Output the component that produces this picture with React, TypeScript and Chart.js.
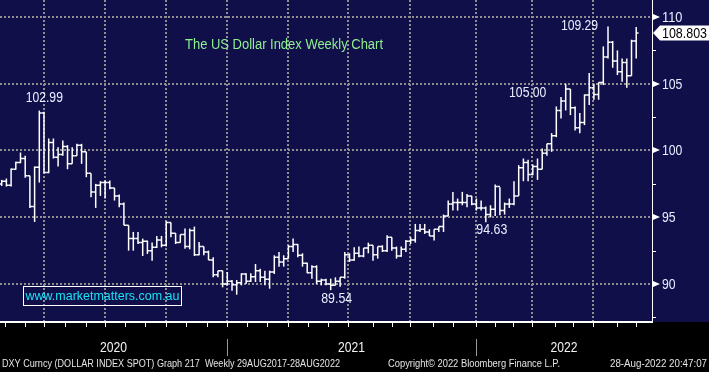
import React, { useEffect, useRef } from 'react';
import { Chart, registerables } from 'chart.js';
Chart.register(...registerables);

// Weekly OHLC of DXY, one bar per week starting late Jan 2020 (index 0) to 26 Aug 2022 (index 135)
const OPEN = [
  97.5, 97.7, 97.4, 98.6, 99.1, 99.4, 98.1, 95.8, 98.75, 102.8,
  98.35, 100.6, 99.5, 99.7, 100.3, 99.0, 99.6, 100.4, 99.9, 98.3,
  96.9, 97.4, 97.6, 97.6, 97.2, 96.6, 96.0, 94.4, 93.4, 93.4,
  93.1, 93.2, 92.5, 92.75, 93.3, 92.9, 94.6, 93.8, 93.1, 93.7,
  92.8, 94.0, 92.2, 92.8, 92.4, 91.8, 90.7, 91.0, 90.0, 90.2,
  89.95, 90.1, 90.75, 90.2, 90.55, 91.0, 90.5, 90.35, 90.9, 92.0,
  91.65, 91.9, 92.8, 92.95, 92.15, 91.55, 90.85, 91.3, 90.2, 90.3,
  90.0, 89.9, 90.2, 90.5, 92.2, 91.8, 92.3, 92.1, 92.7, 92.9,
  92.2, 92.8, 92.5, 93.5, 92.7, 92.1, 92.6, 93.2, 93.3, 94.0,
  94.1, 93.9, 93.6, 94.1, 94.3, 95.1, 96.0, 96.1, 96.1, 96.1,
  96.6, 96.0, 95.7, 95.7, 95.2, 95.6, 97.3, 95.5, 96.0, 96.0,
  96.6, 98.7, 99.1, 98.2, 98.8, 98.6, 99.8, 100.5, 101.1, 103.0,
  103.7, 104.6, 103.2, 101.7, 102.1, 104.15, 104.7, 104.2, 105.1, 107.0,
  108.1, 106.7, 105.9, 106.6, 105.6, 108.2
];
const HIGH = [
  97.8, 97.9, 98.65, 99.15, 99.85, 99.6, 98.1, 98.8, 102.99, 102.9,
  100.9, 100.9, 100.25, 100.75, 100.4, 100.25, 100.5, 100.5, 99.9, 98.3,
  97.5, 97.7, 97.75, 97.75, 97.2, 96.7, 96.1, 94.4, 93.9, 93.9,
  93.4, 93.25, 93.1, 93.6, 93.6, 94.7, 94.6, 93.8, 93.7, 94.15,
  94.15, 94.3, 93.15, 92.8, 92.5, 92.0, 91.0, 91.0, 90.9, 90.3,
  90.3, 90.8, 90.8, 90.8, 91.5, 91.15, 91.0, 91.0, 92.15, 92.4,
  92.15, 92.9, 93.4, 93.0, 92.3, 91.6, 91.4, 91.4, 90.4, 90.4,
  90.4, 90.5, 90.5, 92.4, 92.3, 92.75, 92.8, 92.7, 93.1, 92.9,
  92.8, 92.9, 93.65, 93.5, 92.8, 92.8, 93.3, 93.5, 94.5, 94.5,
  94.5, 94.1, 94.1, 94.3, 95.2, 96.25, 96.9, 96.4, 96.9, 96.75,
  96.6, 96.4, 96.25, 95.8, 95.9, 97.45, 97.25, 96.1, 96.4, 97.7,
  98.9, 99.4, 99.3, 98.95, 99.4, 100.15, 100.5, 101.3, 103.3, 104.0,
  105.0, 104.6, 103.3, 102.8, 104.2, 105.8, 105.0, 105.1, 107.8, 109.29,
  108.2, 107.5, 106.9, 106.9, 108.3, 109.25
];
const LOW = [
  97.35, 97.3, 97.3, 98.55, 99.05, 97.95, 95.7, 94.65, 97.6, 98.3,
  98.3, 99.4, 98.8, 99.6, 98.6, 99.0, 99.6, 99.0, 98.0, 96.5,
  95.7, 96.6, 96.4, 97.1, 96.25, 95.75, 94.4, 92.5, 92.5, 93.0,
  92.1, 92.25, 91.75, 92.7, 92.75, 92.8, 93.5, 93.0, 93.1, 92.65,
  92.6, 92.1, 92.15, 92.15, 91.8, 90.5, 90.5, 89.75, 89.9, 89.5,
  89.2, 89.9, 90.0, 90.15, 90.15, 90.15, 89.9, 89.65, 90.75, 91.3,
  91.3, 91.9, 92.4, 92.0, 91.3, 90.8, 90.4, 90.0, 89.9, 89.9,
  89.54, 89.9, 89.8, 90.4, 91.65, 91.75, 92.0, 92.0, 92.3, 91.75,
  91.9, 92.4, 92.4, 92.5, 91.9, 92.05, 92.4, 93.0, 93.1, 93.9,
  93.75, 93.6, 93.25, 93.9, 93.9, 95.1, 95.5, 95.5, 95.9, 95.75,
  95.9, 95.5, 95.5, 94.63, 95.0, 95.1, 95.15, 95.2, 95.7, 95.9,
  96.6, 97.7, 97.7, 98.15, 97.8, 98.6, 99.6, 99.9, 101.0, 102.4,
  103.0, 102.65, 101.5, 101.3, 101.9, 103.4, 103.8, 103.8, 104.9, 106.9,
  106.2, 105.65, 105.15, 104.7, 105.6, 106.9
];
const CLOSE = [
  97.7, 97.4, 98.6, 99.1, 99.4, 98.1, 95.8, 98.75, 102.8, 98.35,
  100.6, 99.5, 99.7, 100.3, 99.0, 99.6, 100.4, 99.9, 98.3, 96.9,
  97.4, 97.6, 97.6, 97.2, 96.6, 96.0, 94.4, 93.4, 93.4, 93.1,
  93.2, 92.5, 92.75, 93.3, 92.9, 94.6, 93.8, 93.1, 93.7, 92.8,
  94.0, 92.2, 92.8, 92.4, 91.8, 90.7, 91.0, 90.0, 90.2, 89.95,
  90.1, 90.75, 90.2, 90.55, 91.0, 90.5, 90.35, 90.9, 92.0, 91.65,
  91.9, 92.8, 92.95, 92.15, 91.55, 90.85, 91.3, 90.2, 90.3, 90.0,
  89.9, 90.2, 90.5, 92.2, 91.8, 92.3, 92.1, 92.7, 92.9, 92.2,
  92.8, 92.5, 93.5, 92.7, 92.1, 92.6, 93.2, 93.3, 94.0, 94.1,
  93.9, 93.6, 94.1, 94.3, 95.1, 96.0, 96.1, 96.1, 96.1, 96.6,
  96.0, 95.7, 95.7, 95.2, 95.6, 97.3, 95.5, 96.0, 96.0, 96.6,
  98.7, 99.1, 98.2, 98.8, 98.6, 99.8, 100.5, 101.1, 103.0, 103.7,
  104.6, 103.2, 101.7, 102.1, 104.15, 104.7, 104.2, 105.1, 107.0, 108.1,
  106.7, 105.9, 106.6, 105.6, 108.2, 108.803
];

// Axis definition
const Y_TICKS = [87.5, 90, 92.5, 95, 97.5, 100, 102.5, 105, 107.5, 110];
const Y_RANGE = [87.154, 111.273];
const X_RANGE = [-0.362, 138.36];
// Month tick positions (in week-index units) and their calendar month
const MONTH_TICKS = [
  0.7, 4.96, 9.0, 13.47, 17.94, 21.98, 26.23, 30.49, 34.96, 39.21, 43.68,
  47.94, 52.19, 56.45, 60.91, 65.17, 69.43, 73.68, 79.0, 83.04, 86.87, 91.77, 96.02,
  100.92, 104.96, 108.79, 112.83, 117.72, 121.55, 125.81, 130.91, 134.96
];
const MONTH_NUM = [
  2, 3, 4, 5, 6, 7, 8, 9, 10, 11, 12,
  1, 2, 3, 4, 5, 6, 7, 8, 9, 10, 11, 12,
  1, 2, 3, 4, 5, 6, 7, 8, 9
];
const YEAR_LABELS = ['2020', '2021', '2022'];

// Annotated extremes
const ANNOT_INDEX = [8, 70, 103, 120, 129];
const ANNOT_VALUE = [102.99, 89.54, 94.63, 105.0, 109.29];

const TITLE = 'The US Dollar Index Weekly Chart';
const WATERMARK = 'www.marketmatters.com.au';
const FOOTER_LEFT = 'DXY Curncy (DOLLAR INDEX SPOT) Graph 217  Weekly 29AUG2017-28AUG2022';
const FOOTER_MID = 'Copyright\u00a9 2022 Bloomberg Finance L.P.';
const FOOTER_RIGHT = '28-Aug-2022 20:47:07';

const NAVY = '#100f4a';
const FONT = '"Liberation Sans", Arial, sans-serif';
const ANNOT_OFFSETS = [[5, -12.6], [6, 9], [6, 8], [-38, 9], [-28.5, -0.4]];

const bbgPlugin = {
  id: 'bbgStyle',
  beforeDraw(chart: any) {
    const { ctx, width, height, chartArea } = chart;
    const xs = chart.scales.x;
    const ys = chart.scales.y;
    ctx.save();
    ctx.fillStyle = '#000000';
    ctx.fillRect(0, 0, width, height);
    ctx.fillStyle = NAVY;
    ctx.fillRect(0, 0, width, chartArea.bottom);
    // dotted grid
    ctx.strokeStyle = '#8e8e8e';
    ctx.lineWidth = 2;
    ctx.setLineDash([2, 2]);
    Y_TICKS.forEach((v) => {
      if (v % 5 !== 0) return;
      const py = Math.round(ys.getPixelForValue(v));
      ctx.beginPath();
      ctx.moveTo(chartArea.left, py);
      ctx.lineTo(chartArea.right, py);
      ctx.stroke();
    });
    MONTH_TICKS.forEach((t, k) => {
      if ((MONTH_NUM[k] - 1) % 3 !== 0) return;
      const px = Math.round(xs.getPixelForValue(t));
      ctx.beginPath();
      ctx.moveTo(px, chartArea.top);
      ctx.lineTo(px, chartArea.bottom);
      ctx.stroke();
    });
    ctx.restore();
  },
  afterDatasetsDraw(chart: any) {
    const { ctx, chartArea } = chart;
    const xs = chart.scales.x;
    const ys = chart.scales.y;
    const step = xs.getPixelForValue(1) - xs.getPixelForValue(0);
    const tl = step * 0.5;
    ctx.save();
    // open / close ticks
    ctx.strokeStyle = '#ffffff';
    ctx.lineWidth = 1.5;
    for (let i = 0; i < CLOSE.length; i++) {
      const px = xs.getPixelForValue(i);
      const po = ys.getPixelForValue(OPEN[i]);
      const pc = ys.getPixelForValue(CLOSE[i]);
      ctx.beginPath();
      ctx.moveTo(px - tl, po);
      ctx.lineTo(px, po);
      ctx.moveTo(px, pc);
      ctx.lineTo(px + tl, pc);
      ctx.stroke();
    }
    // axes lines
    ctx.fillStyle = '#ffffff';
    ctx.fillRect(chartArea.left, chartArea.bottom - 1, chartArea.right - chartArea.left + 1, 2);
    ctx.fillRect(chartArea.right, chartArea.top, 1, chartArea.bottom - chartArea.top);
    // x tick marks
    MONTH_TICKS.forEach((t) => {
      const px = Math.round(xs.getPixelForValue(t));
      ctx.fillRect(px, chartArea.bottom + 1, 1, 4);
    });
    // y ticks, arrows and labels
    ctx.textBaseline = 'middle';
    ctx.textAlign = 'left';
    ctx.font = `14px ${FONT}`;
    Y_TICKS.forEach((v) => {
      const py = Math.round(ys.getPixelForValue(v));
      ctx.fillStyle = '#ffffff';
      if (v % 5 === 0) {
        ctx.beginPath();
        ctx.moveTo(chartArea.right + 1, py - 3);
        ctx.lineTo(chartArea.right + 8, py);
        ctx.lineTo(chartArea.right + 1, py + 3);
        ctx.closePath();
        ctx.fill();
        ctx.fillStyle = '#e6eeff';
        const s = String(v);
        ctx.fillText(s, chartArea.right + 10, py + 1, s.length * 6.8);
      } else {
        ctx.fillRect(chartArea.right + 1, py, 3, 1);
      }
    });
    // last price box
    const last = CLOSE[CLOSE.length - 1];
    const pl = ys.getPixelForValue(last);
    ctx.fillStyle = '#ffffff';
    ctx.beginPath();
    ctx.moveTo(chartArea.right + 1, pl);
    ctx.lineTo(chartArea.right + 8, pl - 7.5);
    ctx.lineTo(709, pl - 7.5);
    ctx.lineTo(709, pl + 7.5);
    ctx.lineTo(chartArea.right + 8, pl + 7.5);
    ctx.closePath();
    ctx.fill();
    ctx.fillStyle = '#000000';
    ctx.fillText(last.toFixed(3), chartArea.right + 10, pl + 1, 45);
    // annotations
    ctx.textAlign = 'center';
    ctx.fillStyle = '#e8f0ff';
    ANNOT_INDEX.forEach((idx, k) => {
      const px = xs.getPixelForValue(idx) + ANNOT_OFFSETS[k][0];
      const py = ys.getPixelForValue(ANNOT_VALUE[k]) + ANNOT_OFFSETS[k][1];
      const s = ANNOT_VALUE[k].toFixed(2);
      ctx.fillText(s, px, py, s.length * 6.2);
    });
    // title
    ctx.textAlign = 'left';
    ctx.fillStyle = '#8ff08f';
    ctx.fillText(TITLE, 185, 45, 198);
    // watermark box
    ctx.strokeStyle = '#ffffff';
    ctx.lineWidth = 1;
    ctx.strokeRect(23.5, 286.5, 158, 19);
    ctx.fillStyle = '#19e3f5';
    ctx.font = `13px ${FONT}`;
    ctx.textAlign = 'center';
    ctx.fillText(WATERMARK, 102.5, 296.5, 154);
    // year labels and separators
    const yearStarts = MONTH_TICKS.filter((_, k) => MONTH_NUM[k] === 1).map((t) => xs.getPixelForValue(t));
    const bounds = [chartArea.left, ...yearStarts, chartArea.right];
    ctx.font = `14px ${FONT}`;
    ctx.fillStyle = '#f2f2f2';
    YEAR_LABELS.forEach((yl, k) => {
      const cx = (bounds[k] + bounds[k + 1]) / 2;
      ctx.fillText(yl, cx, 348, 27);
    });
    ctx.fillStyle = '#9a9a9a';
    yearStarts.forEach((px) => ctx.fillRect(Math.round(px), 339, 1, 17));
    // footer
    ctx.fillStyle = '#e4e4e4';
    ctx.font = `11px ${FONT}`;
    ctx.textAlign = 'left';
    ctx.fillText(FOOTER_LEFT, 2, 364, 338);
    ctx.fillText(FOOTER_MID, 388, 364, 172);
    ctx.fillText(FOOTER_RIGHT, 610, 364, 97);
    ctx.restore();
  },
};

export default function App() {
  const ref = useRef<HTMLCanvasElement>(null);
  useEffect(() => {
    document.body.style.margin = '0';
    const chart = new Chart(ref.current as HTMLCanvasElement, {
      type: 'bar',
      data: {
        datasets: [
          {
            label: 'DXY',
            data: HIGH.map((h, i) => ({ x: i, y: [LOW[i], h] })) as any,
            backgroundColor: '#ffffff',
            borderWidth: 0,
            barThickness: 1.5,
            inflateAmount: 0,
          } as any,
        ],
      },
      options: {
        responsive: false,
        animation: false,
        devicePixelRatio: 1,
        layout: { padding: 0 },
        plugins: { legend: { display: false }, tooltip: { enabled: false }, title: { display: false } },
        scales: {
          x: {
            type: 'linear',
            min: X_RANGE[0],
            max: X_RANGE[1],
            offset: false,
            grid: { display: false, offset: false },
            border: { display: false },
            ticks: { display: false },
            afterFit: (s: any) => { s.height = 50; },
          },
          y: {
            type: 'linear',
            position: 'right',
            min: Y_RANGE[0],
            max: Y_RANGE[1],
            grid: { display: false },
            border: { display: false },
            ticks: { display: false },
            afterBuildTicks: (s: any) => { s.ticks = Y_TICKS.map((v) => ({ value: v })); },
            afterFit: (s: any) => { s.width = 57; },
          },
        },
      } as any,
      plugins: [bbgPlugin],
    });
    return () => chart.destroy();
  }, []);
  return (
    <div style={{ width: 709, height: 372 }}>
      <canvas ref={ref} width={709} height={372} style={{ display: 'block' }} />
    </div>
  );
}
